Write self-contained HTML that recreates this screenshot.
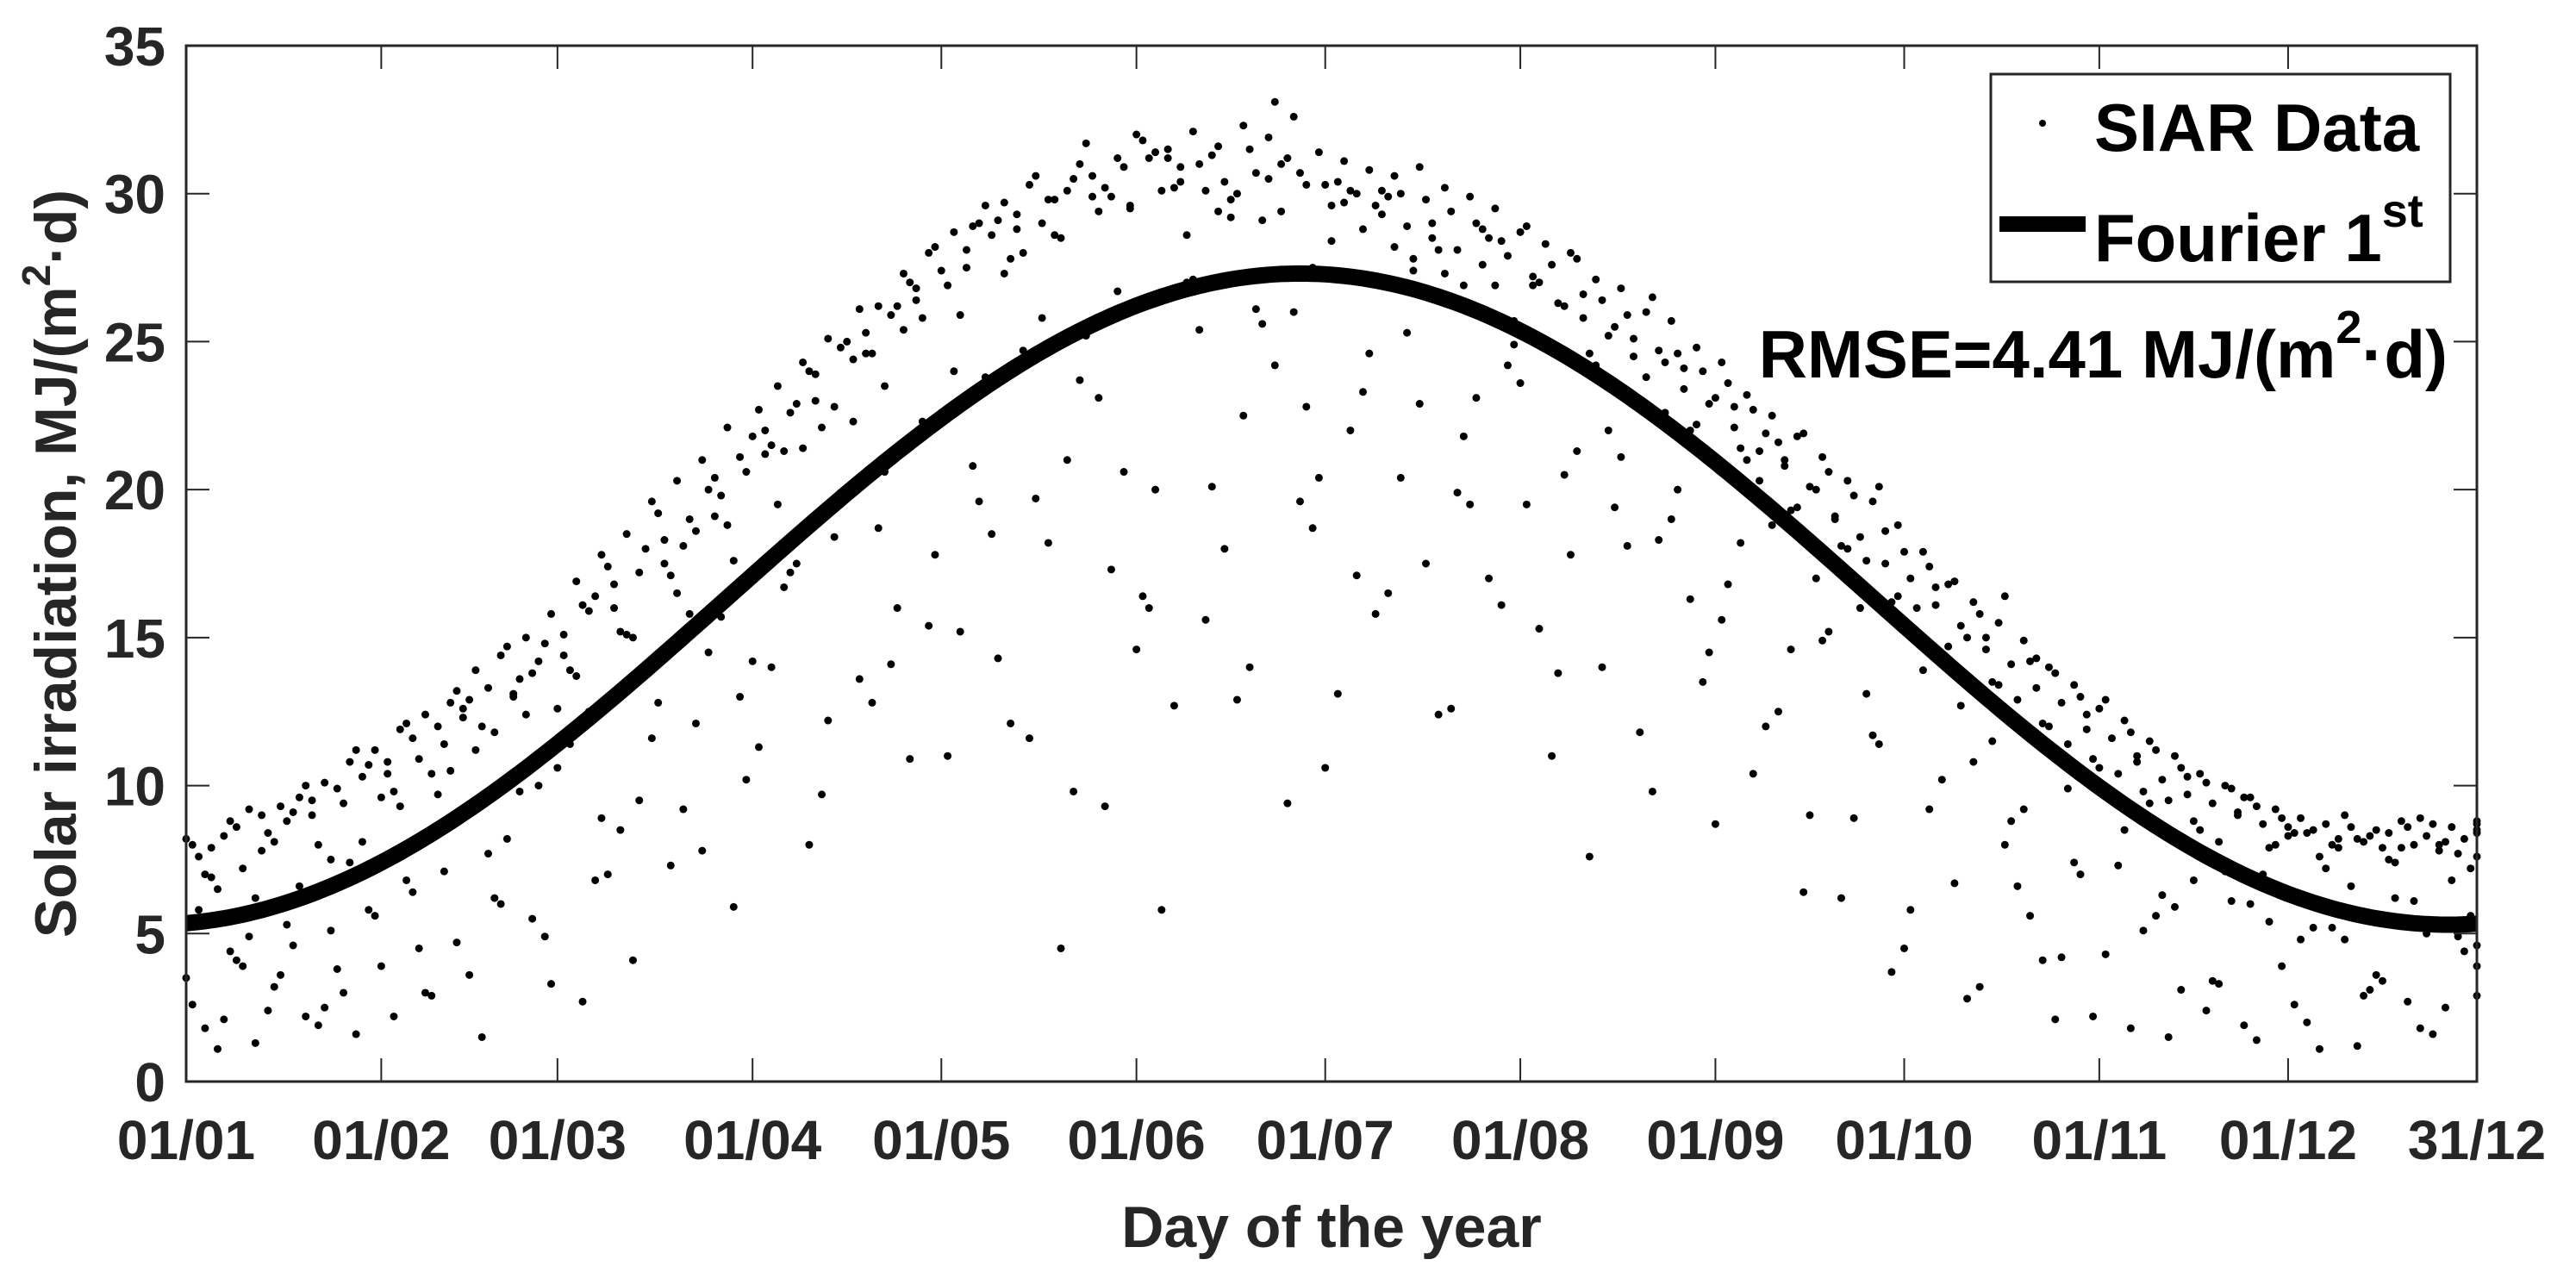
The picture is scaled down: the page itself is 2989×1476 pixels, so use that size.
<!DOCTYPE html>
<html><head><meta charset="utf-8"><style>
html,body{margin:0;padding:0;background:#fff;}
svg{display:block;font-family:"Liberation Sans",Arial,sans-serif;font-weight:bold;}
</style></head><body>
<svg id="chart" width="2989" height="1476" viewBox="0 0 2989 1476">
<rect x="0" y="0" width="2989" height="1476" fill="#fff"/>
<g id="dots"></g>
<path id="fit" fill="none" stroke="#000" stroke-width="19"/>
<g id="ticks"></g>
<rect x="216" y="53" width="2658" height="1202" fill="none" stroke="#262626" stroke-width="3"/>
<g id="legend">
<rect x="2310" y="86" width="533" height="241" fill="#fff" stroke="#262626" stroke-width="3"/>
<circle cx="2370" cy="143" r="4" fill="#000"/>
<text x="2430" y="175" font-size="78" fill="#000">SIAR Data</text>
<rect x="2320" y="251" width="100" height="18" fill="#000"/>
<text x="2430" y="303" font-size="78" fill="#000">Fourier 1<tspan font-size="54" dy="-40">st</tspan></text>
</g>
<text x="2840" y="438" font-size="78" text-anchor="end" fill="#000">RMSE=4.41 MJ/(m<tspan font-size="54" dy="-40">2</tspan><tspan dy="40">·d)</tspan></text>
<text x="1545" y="1447" font-size="68" text-anchor="middle" fill="#262626">Day of the year</text>
<text transform="translate(88,654) rotate(-90)" font-size="68" text-anchor="middle" fill="#262626">Solar irradiation, MJ/(m<tspan font-size="46" dy="-30">2</tspan><tspan dy="30">·d)</tspan></text>
</svg>
<script>
const xTickDays = [0,31,59,90,120,151,181,212,243,273,304,334,364];
const xTickLabels = ["01/01","01/02","01/03","01/04","01/05","01/06","01/07","01/08","01/09","01/10","01/11","01/12","31/12"];
const yTicks = [0,5,10,15,20,25,30,35];
const fitMean = 16.3;
const fitAmp = 11.0;
const fitPeakDay = 177;
const seriesA = [8.2,7.9,8.6,9.0,8.8,9.5,9.9,10.3,10.8,11.6,12.0,12.6,13.3,13.0,14.2,15.1,15.9,16.8,17.2,18.3,19.0,20.4,21.1,22.0,22.6,23.9,24.8,25.3,25.9,26.8,27.4,28.1,28.6,29.3,29.0,30.1,30.6,31.2,31.8,31.5,32.1,31.6,32.3,31.9,32.6,31.4,31.1,30.8,30.6,30.9,30.2,29.9,29.5,28.7,28.3,28.0,27.1,26.8,26.0,25.7,24.8,24.3,23.2,22.5,21.8,21.1,20.3,19.6,18.8,17.9,16.8,16.2,15.5,14.9,14.0,13.4,12.6,12.2,11.5,11.0,10.4,10.0,9.6,9.2,8.9,8.7,8.6,8.5,8.8,8.3,8.6,8.4];
const seriesB = [8.0,6.5,7.2,8.4,9.1,8.0,9.4,10.7,9.8,10.9,11.4,12.9,11.8,13.6,14.8,13.9,16.4,15.2,18.0,17.1,18.6,19.8,20.6,21.5,22.9,22.1,25.0,24.6,26.2,25.8,26.9,28.9,29.1,28.0,29.8,30.5,29.4,30.9,31.2,30.2,31.0,30.4,31.5,33.1,30.7,30.3,30.1,29.6,30.0,29.8,29.4,29.0,28.4,28.9,27.6,27.8,26.4,25.9,26.5,24.6,24.0,23.6,22.7,21.6,21.9,20.6,19.8,20.1,17.9,17.4,16.9,15.8,16.4,14.2,13.8,13.0,12.9,11.8,11.2,10.6,10.1,9.9,9.3,8.9,8.4,8.0,8.2,7.9,8.6,8.7,7.7,8.8];
const seriesC = [5.8,2.1,4.9,3.2,6.6,2.5,7.4,5.6,9.3,3.0,10.5,11.2,6.0,12.4,3.3,13.7,8.9,15.1,11.6,16.5,7.8,18.8,14.2,19.5,21.4,12.2,22.3,18.7,25.4,15.4,24.0,19.6,27.3,11.6,28.6,23.7,9.3,29.5,20.0,30.4,15.6,29.2,26.1,31.0,22.8,28.4,17.1,30.1,25.3,29.0,19.9,28.8,24.2,27.2,13.8,26.6,22.0,25.1,18.3,24.1,14.5,22.8,20.3,21.0,9.0,19.1,16.0,18.6,5.8,16.7,12.7,15.0,8.8,14.3,4.2,12.4,9.8,11.0,6.3,10.3,3.4,9.1,7.0,8.6,5.2,8.2,2.9,7.5,6.1,8.0,4.4,7.6];
const seriesD = [1.8,4.4,1.3,3.6,2.2,5.1,1.6,3.9,6.8,2.9,4.7,1.5,8.2,5.5,10.6,2.7,7.0,4.1,12.8,9.2,14.5,5.9,11.3,16.7,8.0,18.4,13.6,20.6,10.9,17.8,15.2,23.8,12.1,19.7,4.5,25.2,17.3,14.6,5.8,27.0,20.1,12.9,25.6,9.4,18.7,13.1,23.3,16.5,27.8,12.4,21.8,17.0,24.9,15.3,20.5,7.6,19.4,11.8,22.6,16.3,8.7,18.2,12.0,14.6,17.0,6.2,13.1,3.7,14.9,10.2,2.8,11.5,6.6,4.1,9.9,2.2,7.3,5.1,1.5,6.8,3.3,1.9,5.4,2.6,1.1,4.8,3.1,6.2,1.8,2.5,5.6,3.9];
const seriesE = [7.6,8.3,9.2,8.1,9.6,10.1,10.8,11.2,11.9,12.4,12.8,13.9,14.4,15.0,15.8,16.9,17.8,18.5,19.6,20.3,21.0,22.1,21.8,23.5,24.3,25.1,24.4,26.2,27.3,28.0,28.7,29.0,29.7,30.3,29.8,31.0,30.2,29.6,31.4,30.9,30.1,29.8,30.7,29.4,30.3,29.6,30.0,29.3,28.9,28.5,28.1,27.6,27.9,26.9,26.3,25.8,25.2,24.5,24.7,23.4,22.9,22.1,21.3,20.8,20.1,19.0,18.4,17.5,17.0,16.1,15.4,14.6,14.1,13.3,12.8,11.9,11.6,10.8,10.2,9.7,9.4,9.0,8.7,8.3,8.5,7.9,8.1,8.4,8.0,7.8,8.2,8.7];
const seriesF = [7.0,8.8,6.2,9.3,10.0,7.5,11.2,9.6,12.1,10.4,13.2,12.0,14.7,13.8,12.6,16.1,17.4,15.0,19.2,18.1,20.0,17.6,22.7,21.3,24.0,22.8,26.1,23.5,27.0,28.2,25.9,29.6,27.8,30.6,28.5,31.7,29.9,32.0,30.1,28.6,31.3,30.0,29.1,31.2,27.5,30.4,28.8,29.9,27.4,28.1,26.9,28.5,25.7,27.0,26.2,24.6,25.5,23.0,24.3,22.0,23.1,21.4,21.9,19.3,20.0,18.1,17.6,16.2,16.0,14.1,15.0,13.5,12.9,12.1,11.4,10.9,10.4,9.8,9.5,8.8,8.1,9.6,7.9,8.4,7.6,9.0,8.3,7.4,8.9,8.1,7.2,8.5];
const seriesG = [3.5,6.9,4.1,7.8,5.3,9.0,3.8,8.1,10.4,6.4,9.7,12.3,7.7,13.1,10.0,14.4,12.5,16.0,9.5,17.5,15.8,19.1,13.0,21.2,17.2,23.0,19.9,24.6,14.1,26.4,22.6,27.5,18.5,28.8,25.8,21.0,29.9,26.7,16.4,31.2,27.1,29.4,22.5,30.5,26.0,20.4,29.7,24.6,28.2,22.9,27.3,19.5,26.9,23.6,25.0,17.8,24.2,21.1,23.8,19.0,22.2,15.6,21.0,18.8,19.4,14.9,18.0,11.7,16.4,13.9,14.7,10.8,13.4,9.2,12.0,7.4,10.6,8.5,9.4,5.9,8.5,7.1,6.0,8.0,4.8,7.2,6.6,3.6,7.9,5.0,6.8,4.6];
const seriesH = [2.6,1.1,3.9,2.4,4.6,1.9,3.0,5.8,2.2,4.5,7.1,3.6,6.2,9.8,4.9,11.4,6.8,8.5,13.9,7.3,12.1,15.7,10.2,14.0,17.5,9.7,19.9,12.8,16.0,22.3,11.0,20.8,14.3,24.7,18.2,9.8,23.1,20.6,16.0,12.7,25.4,18.0,14.0,24.2,19.6,10.6,22.0,15.8,20.4,17.5,12.6,23.1,16.1,19.5,11.0,21.3,14.0,18.1,9.8,20.0,13.5,16.8,10.4,12.5,6.4,15.2,8.9,11.4,4.5,9.2,6.7,3.2,8.0,5.6,2.1,7.0,4.3,1.8,5.6,3.1,2.4,6.1,1.4,3.9,2.0,5.2,1.2,3.4,2.7,1.6,4.9,2.9];
const seriesOffsets = [0,1,2,3,2,3,0,1];
const dayStep = 4;

const NS = "http://www.w3.org/2000/svg";
const X0 = 216, X1 = 2874, Y0 = 1255, Y1 = 53;
function xs(d){ return X0 + (d/364)*(X1-X0); }
function ys(v){ return Y0 - (v/35)*(Y0-Y1); }

const dots = document.getElementById('dots');
[seriesA, seriesB, seriesC, seriesD, seriesE, seriesF, seriesG, seriesH].forEach((s, k) => {
  s.forEach((v, i) => {
    const d = Math.min(364, i*dayStep + seriesOffsets[k]);
    const c = document.createElementNS(NS, 'circle');
    c.setAttribute('cx', xs(d)); c.setAttribute('cy', ys(v)); c.setAttribute('r', 4.5);
    c.setAttribute('fill', '#000');
    
    
    dots.appendChild(c);
  });
});

let p = "";
for (let d = 0; d <= 364; d++) {
  const v = fitMean + fitAmp*Math.cos(2*Math.PI*(d - fitPeakDay)/365);
  p += (d ? "L" : "M") + xs(d).toFixed(1) + "," + ys(v).toFixed(1);
}
document.getElementById('fit').setAttribute('d', p);

const ticks = document.getElementById('ticks');
xTickDays.forEach((d, i) => {
  const x = xs(d);
  const l = document.createElementNS(NS, 'path');
  l.setAttribute('d', `M${x},${Y0}V${Y0-27}M${x},${Y1}V${Y1+27}`);
  l.setAttribute('stroke', '#262626'); l.setAttribute('stroke-width', 2);
  
  
  ticks.appendChild(l);
  const t = document.createElementNS(NS, 'text');
  t.setAttribute('x', x); t.setAttribute('y', 1345);
  t.setAttribute('font-size', 64); t.setAttribute('text-anchor', 'middle'); t.setAttribute('fill', '#262626');
  t.textContent = xTickLabels[i];
  
  
  ticks.appendChild(t);
});
yTicks.forEach(v => {
  const y = ys(v);
  const l = document.createElementNS(NS, 'path');
  l.setAttribute('d', `M${X0},${y}H${X0+27}M${X1},${y}H${X1-27}`);
  l.setAttribute('stroke', '#262626'); l.setAttribute('stroke-width', 2);
  
  
  ticks.appendChild(l);
  const t = document.createElementNS(NS, 'text');
  t.setAttribute('x', 192); t.setAttribute('y', y + 23);
  t.setAttribute('font-size', 64); t.setAttribute('text-anchor', 'end'); t.setAttribute('fill', '#262626');
  t.textContent = v;
  
  
  ticks.appendChild(t);
});
</script>
</body></html>
